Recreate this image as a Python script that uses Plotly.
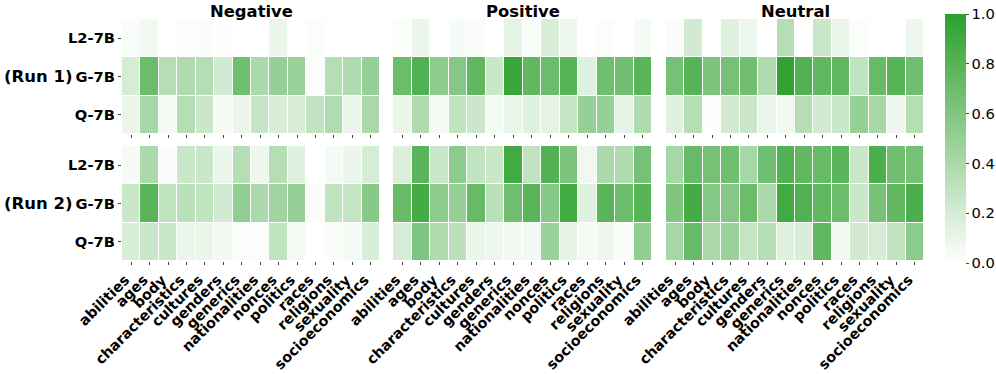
import plotly.graph_objects as go

CATEGORIES = ["abilities", "ages", "body", "characteristics", "cultures", "genders",
              "generics", "nationalities", "nonces", "politics", "races", "religions",
              "sexuality", "socioeconomics"]
MODELS = ["L2-7B", "G-7B", "Q-7B"]
SENTIMENTS = ["Negative", "Positive", "Neutral"]
RUNS = ["(Run 1)", "(Run 2)"]
CBAR_TICKS = [0.0, 0.2, 0.4, 0.6, 0.8, 1.0]

# rows: L2-7B, G-7B, Q-7B
NEG_RUN1 = [
    [0.03, 0.06, 0.00, 0.02, 0.03, 0.01, 0.00, 0.00, 0.10, 0.00, 0.02, 0.00, 0.00, 0.00],
    [0.20, 0.70, 0.35, 0.38, 0.35, 0.22, 0.68, 0.40, 0.50, 0.48, 0.02, 0.35, 0.38, 0.50],
    [0.10, 0.42, 0.05, 0.35, 0.25, 0.04, 0.10, 0.27, 0.18, 0.18, 0.30, 0.37, 0.10, 0.40],
]
NEG_RUN2 = [
    [0.04, 0.40, 0.03, 0.25, 0.25, 0.10, 0.35, 0.08, 0.35, 0.15, 0.00, 0.05, 0.10, 0.20],
    [0.25, 0.78, 0.30, 0.32, 0.30, 0.22, 0.52, 0.40, 0.45, 0.50, 0.03, 0.30, 0.28, 0.57],
    [0.18, 0.25, 0.25, 0.10, 0.10, 0.07, 0.02, 0.02, 0.30, 0.05, 0.00, 0.03, 0.05, 0.18],
]
POS_RUN1 = [
    [0.02, 0.10, 0.00, 0.04, 0.03, 0.00, 0.12, 0.03, 0.18, 0.08, 0.00, 0.02, 0.00, 0.05],
    [0.70, 0.82, 0.55, 0.58, 0.75, 0.25, 0.95, 0.75, 0.70, 0.80, 0.15, 0.68, 0.68, 0.78],
    [0.10, 0.38, 0.05, 0.30, 0.25, 0.05, 0.10, 0.15, 0.13, 0.28, 0.50, 0.50, 0.12, 0.38],
]
POS_RUN2 = [
    [0.17, 0.78, 0.25, 0.55, 0.30, 0.25, 0.90, 0.30, 0.82, 0.62, 0.07, 0.40, 0.38, 0.65],
    [0.72, 0.88, 0.55, 0.50, 0.72, 0.32, 0.68, 0.78, 0.57, 0.90, 0.15, 0.78, 0.70, 0.80],
    [0.20, 0.60, 0.38, 0.32, 0.10, 0.08, 0.06, 0.06, 0.48, 0.12, 0.05, 0.08, 0.03, 0.52],
]
NEU_RUN1 = [
    [0.03, 0.22, 0.00, 0.15, 0.08, 0.00, 0.35, 0.00, 0.25, 0.10, 0.02, 0.00, 0.00, 0.08],
    [0.65, 0.80, 0.62, 0.65, 0.68, 0.38, 0.97, 0.82, 0.75, 0.75, 0.30, 0.72, 0.80, 0.68],
    [0.15, 0.35, 0.01, 0.22, 0.25, 0.10, 0.06, 0.35, 0.22, 0.25, 0.50, 0.42, 0.08, 0.35],
]
NEU_RUN2 = [
    [0.42, 0.72, 0.65, 0.68, 0.42, 0.68, 0.82, 0.75, 0.72, 0.78, 0.25, 0.85, 0.68, 0.65],
    [0.60, 0.88, 0.58, 0.58, 0.70, 0.40, 0.90, 0.82, 0.75, 0.70, 0.25, 0.65, 0.75, 0.85],
    [0.42, 0.72, 0.40, 0.48, 0.28, 0.35, 0.15, 0.18, 0.75, 0.07, 0.22, 0.20, 0.30, 0.55],
]

GRID = [[NEG_RUN1, POS_RUN1, NEU_RUN1], [NEG_RUN2, POS_RUN2, NEU_RUN2]]

W, H = 996, 374
X_PX = [(122, 380), (393, 652), (666, 924)]
Y_PX = [(19, 134), (146, 261)]
FONT = "DejaVu Sans"


def px_x(v):
    return v / W


def px_y(v):
    return 1 - v / H


fig = go.Figure()
layout = {}

for r in range(2):
    for p in range(3):
        k = r * 3 + p + 1
        sfx = "" if k == 1 else str(k)
        fig.add_trace(go.Heatmap(
            z=GRID[r][p], x=CATEGORIES, y=MODELS,
            coloraxis="coloraxis", xgap=1, ygap=1,
            xaxis="x" + sfx, yaxis="y" + sfx,
        ))
        x0, x1 = X_PX[p]
        y0, y1 = Y_PX[r]
        layout["xaxis" + sfx] = dict(
            domain=[px_x(x0), px_x(x1)], anchor="y" + sfx, automargin=False,
            tickmode="array", tickvals=CATEGORIES, ticktext=CATEGORIES,
            showticklabels=(r == 1), tickangle=-45,
            ticklabelstandoff=1, ticklabelshift=-6,
            ticks="outside", ticklen=3, tickcolor="#444",
            tickfont=dict(family=FONT, size=14.3, color="black", weight="bold"),
            showgrid=False, zeroline=False, showline=False,
        )
        layout["yaxis" + sfx] = dict(
            domain=[px_y(y1), px_y(y0)], anchor="x" + sfx, automargin=False,
            autorange="reversed", showticklabels=(p == 0),
            ticks="outside" if p == 0 else "", ticklen=3, tickcolor="#444",
            tickfont=dict(family=FONT, size=14.7, color="black", weight="bold"),
            showgrid=False, zeroline=False, showline=False,
        )

annotations = []
for p, name in enumerate(SENTIMENTS):
    x0, x1 = X_PX[p]
    annotations.append(dict(
        text=name, x=px_x((x0 + x1) / 2), y=px_y(11), xref="paper", yref="paper",
        showarrow=False, xanchor="center", yanchor="middle",
        font=dict(family=FONT, size=16.4, color="black", weight="bold"),
    ))
for r, run in enumerate(RUNS):
    y0, y1 = Y_PX[r]
    annotations.append(dict(
        text=run, x=px_x(75), y=px_y((y0 + y1) / 2), xref="paper", yref="paper",
        showarrow=False, xanchor="right", yanchor="middle",
        font=dict(family=FONT, size=16.5, color="black", weight="bold"),
    ))

fig.update_layout(
    **layout,
    width=W, height=H,
    margin=dict(l=0, r=0, t=0, b=0, autoexpand=False),
    plot_bgcolor="white", paper_bgcolor="white",
    annotations=annotations,
    coloraxis=dict(
        cmin=0, cmax=1,
        colorscale=[[0, "#ffffff"], [1, "#2ca02c"]],
        colorbar=dict(
            x=px_x(945), xanchor="left", y=px_y(14), yanchor="top",
            len=(263 - 14) / H, lenmode="fraction", thickness=21,
            xpad=0, ypad=0,
            outlinewidth=0, ticks="outside", ticklen=3, tickcolor="#444",
            # nudge the top tick just inside the bar so plotly keeps its label
            tickvals=[min(t, 0.999) for t in CBAR_TICKS],
            ticktext=[f"{t:.1f}" for t in CBAR_TICKS],
            tickfont=dict(family=FONT, size=14.7, color="black"),
        ),
    ),
)

# drop the default page margin so the figure sits at the window's corner
fig.write_html(
    "out.html",
    config={"displayModeBar": False},
    post_script="document.body.style.margin='0';",
)
